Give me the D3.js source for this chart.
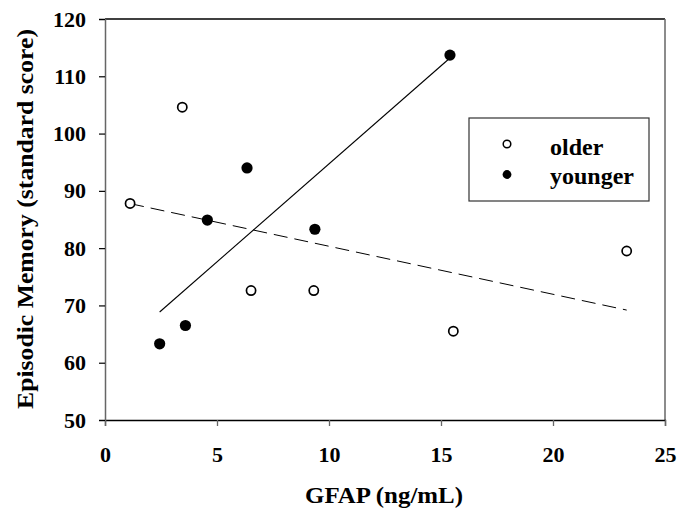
<!DOCTYPE html>
<html>
<head>
<meta charset="utf-8">
<script src="https://cdn.jsdelivr.net/npm/d3@7"></script>
<style>
  body { margin: 0; background: #fff; }
</style>
</head>
<body>
<svg id="chart" width="678" height="510"></svg>
<script>
// values
const olderX   = [1.12, 3.45, 6.52, 9.32, 15.55, 23.29];
const olderY   = [87.8, 104.6, 72.6, 72.6, 65.5, 79.5];
const youngerX = [2.44, 3.59, 4.57, 6.34, 9.37, 15.4];
const youngerY = [63.3, 66.5, 84.9, 94.0, 83.3, 113.7];
const xTicks = [0, 5, 10, 15, 20, 25];
const yTicks = [50, 60, 70, 80, 90, 100, 110, 120];
const legendLabels = ["older", "younger"];

const svg = d3.select('#chart');
const L = 105, R = 665, T = 19, B = 420;
const x = d3.scaleLinear().domain([0, 25]).range([L, R]);
const y = d3.scaleLinear().domain([50, 120]).range([B, T]);

const serif = (sel, size) => sel.style('font-family', '"Liberation Serif", "Times New Roman", serif')
  .style('font-weight', 'bold').style('font-size', size + 'px').style('fill', '#000');

// least-squares fit for each group
function fit(xs, ys){
  const mx = d3.mean(xs), my = d3.mean(ys);
  let sxy = 0, sxx = 0;
  xs.forEach((v,i)=>{ sxy += (v-mx)*(ys[i]-my); sxx += (v-mx)*(v-mx); });
  const b = sxy/sxx, a = my - b*mx;
  const x0 = d3.min(xs), x1 = d3.max(xs);
  return [[x0, a+b*x0], [x1, a+b*x1]];
}

// frame
svg.append('line').attr('x1', L).attr('x2', R).attr('y1', T).attr('y2', T).attr('stroke', '#000').attr('stroke-width', 1.3);
svg.append('line').attr('x1', R).attr('x2', R).attr('y1', T).attr('y2', B).attr('stroke', '#666').attr('stroke-width', 1.5);

const xAxis = svg.append('g').attr('transform', `translate(0,${B})`)
  .call(d3.axisBottom(x).tickValues(xTicks).tickSize(6).tickPadding(20));
const yAxis = svg.append('g').attr('transform', `translate(${L},0)`)
  .call(d3.axisLeft(y).tickValues(yTicks).tickSize(6).tickPadding(13));
xAxis.select('.domain').attr('stroke', '#000').attr('stroke-width', 1.3);
yAxis.select('.domain').attr('stroke', '#666').attr('stroke-width', 1.5);
xAxis.selectAll('.tick line').attr('stroke', '#666').attr('stroke-width', 1.3);
yAxis.selectAll('.tick line').attr('stroke', '#000').attr('stroke-width', 1.2);
xAxis.selectAll('.tick text').call(serif, 22);
yAxis.selectAll('.tick text').call(serif, 22);

// regression lines
const line = d3.line().x(d=>x(d[0])).y(d=>y(d[1]));
svg.append('path').attr('d', line(fit(olderX, olderY))).attr('fill', 'none')
  .attr('stroke', '#000').attr('stroke-width', 1).attr('stroke-dasharray', '14,7');
svg.append('path').attr('d', line(fit(youngerX, youngerY))).attr('fill', 'none')
  .attr('stroke', '#000').attr('stroke-width', 1.1);

// points
svg.append('g').selectAll('circle').data(d3.zip(olderX, olderY)).join('circle')
  .attr('cx', d=>x(d[0])).attr('cy', d=>y(d[1])).attr('r', 4.6)
  .attr('fill', '#fff').attr('stroke', '#000').attr('stroke-width', 1.7);
svg.append('g').selectAll('circle').data(d3.zip(youngerX, youngerY)).join('circle')
  .attr('cx', d=>x(d[0])).attr('cy', d=>y(d[1])).attr('r', 5.6).attr('fill', '#000');

// legend
const lg = svg.append('g');
lg.append('rect').attr('x', 469).attr('y', 118).attr('width', 180).attr('height', 83)
  .attr('fill', '#fff').attr('stroke', '#333').attr('stroke-width', 1.2);
lg.append('circle').attr('cx', 507).attr('cy', 144).attr('r', 3.8).attr('fill', '#fff').attr('stroke', '#000').attr('stroke-width', 1.5);
lg.append('circle').attr('cx', 507).attr('cy', 174.5).attr('r', 4.4).attr('fill', '#000');
lg.selectAll('text').data(legendLabels).join('text')
  .attr('x', 550).attr('y', (d,i)=> 155 + i*29)
  .call(serif, 24).text(d=>d);

// axis titles
svg.append('text').attr('x', 384).attr('y', 503).attr('text-anchor', 'middle')
  .call(serif, 23).attr('textLength', 158).attr('lengthAdjust', 'spacingAndGlyphs')
  .text('GFAP (ng/mL)');
svg.append('text').attr('transform', 'translate(33,219) rotate(-90)').attr('text-anchor', 'middle')
  .call(serif, 23).attr('textLength', 380).attr('lengthAdjust', 'spacingAndGlyphs')
  .text('Episodic Memory (standard score)');
</script>
</body>
</html>
